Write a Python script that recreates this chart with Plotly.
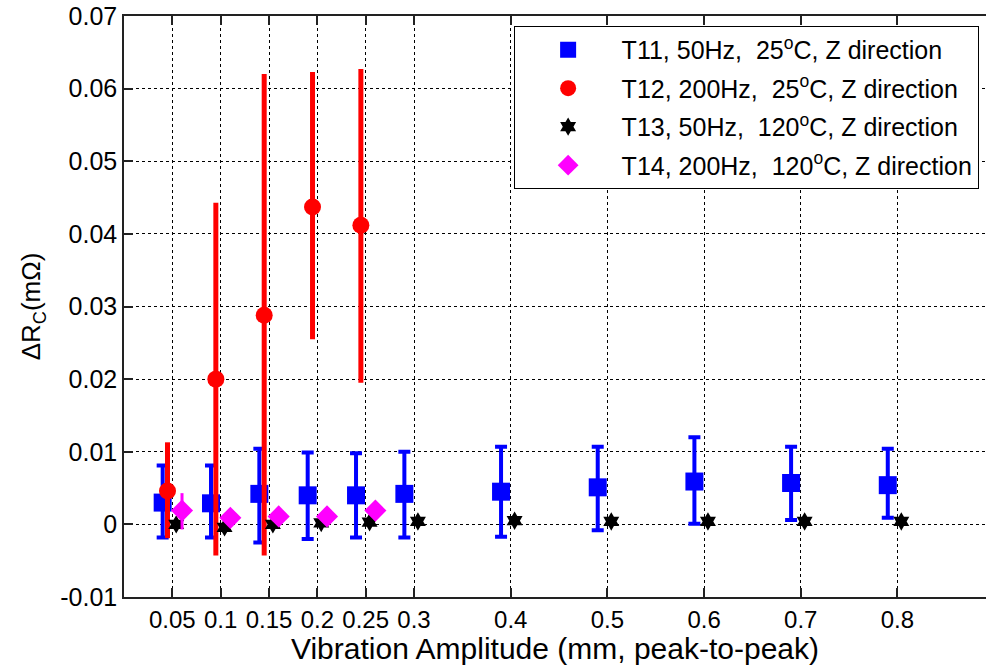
import plotly.graph_objects as go

# ---- data ----
amp_all = [0.05, 0.1, 0.15, 0.2, 0.25, 0.3, 0.4, 0.5, 0.6, 0.7, 0.8]
amp_200 = [0.05, 0.1, 0.15, 0.2, 0.25]

t11_mean = [0.0030, 0.0029, 0.0042, 0.0040, 0.0040, 0.0042, 0.0045, 0.0051, 0.0059, 0.0057, 0.0054]
t11_high = [0.0081, 0.0081, 0.0104, 0.0099, 0.0098, 0.0100, 0.0107, 0.0107, 0.0120, 0.0107, 0.0104]
t11_low = [-0.0018, -0.0018, -0.0025, -0.0020, -0.0018, -0.0018, -0.0017, -0.0008, 0.0001, 0.0006, 0.0009]

t12_mean = [0.0046, 0.0200, 0.0288, 0.0437, 0.0412]
t12_high = [0.0113, 0.0443, 0.0620, 0.0623, 0.0627]
t12_low = [-0.0019, -0.0043, -0.0043, 0.0255, 0.0195]

t13_mean = [0.0000, -0.0004, 0.0000, 0.0002, 0.0003, 0.0004, 0.0005, 0.0004, 0.0004, 0.0004, 0.0004]

t14_mean = [0.0019, 0.0009, 0.0011, 0.0011, 0.0019]
t14_high = [0.0043, 0.0013, 0.0015, 0.0015, 0.0023]
t14_low = [-0.0007, 0.0005, 0.0007, 0.0007, 0.0015]

x_ticks = [0.05, 0.1, 0.15, 0.2, 0.25, 0.3, 0.4, 0.5, 0.6, 0.7, 0.8]
x_ticktext = ["0.05", "0.1", "0.15", "0.2", "0.25", "0.3", "0.4", "0.5", "0.6", "0.7", "0.8"]
y_ticks = [-0.01, 0, 0.01, 0.02, 0.03, 0.04, 0.05, 0.06, 0.07]
y_ticktext = ["-0.01", "0", "0.01", "0.02", "0.03", "0.04", "0.05", "0.06", "0.07"]

names = [
    "T11, 50Hz,  25<sup>o</sup>C, Z direction",
    "T12, 200Hz,  25<sup>o</sup>C, Z direction",
    "T13, 50Hz,  120<sup>o</sup>C, Z direction",
    "T14, 200Hz,  120<sup>o</sup>C, Z direction",
]

# small horizontal dodge per series (as in the original figure)
dodge = {"T11": -0.01, "T12": -0.005, "T13": 0.004, "T14": 0.01}


def shift(xs, d):
    return [x + d for x in xs]


def err_plus(m, h):
    return [b - a for a, b in zip(m, h)]


def err_minus(m, l):
    return [a - b for a, b in zip(m, l)]


fig = go.Figure()

fig.add_trace(go.Scatter(
    x=shift(amp_all, dodge["T11"]), y=t11_mean, mode="markers", name=names[0],
    legendgroup="a",
    marker=dict(symbol="square", size=18, color="#0000FF"),
    error_y=dict(type="data", symmetric=False, array=err_plus(t11_mean, t11_high),
                 arrayminus=err_minus(t11_mean, t11_low), color="#0000FF",
                 thickness=4, width=6),
))
fig.add_trace(go.Scatter(
    x=shift(amp_200, dodge["T12"]), y=t12_mean, mode="markers", name=names[1],
    legendgroup="b",
    marker=dict(symbol="circle", size=17, color="#FF0000"),
    error_y=dict(type="data", symmetric=False, array=err_plus(t12_mean, t12_high),
                 arrayminus=err_minus(t12_mean, t12_low), color="#FF0000",
                 thickness=5, width=0),
))
fig.add_trace(go.Scatter(
    x=shift(amp_all, dodge["T13"]), y=t13_mean, mode="markers", name=names[2],
    legendgroup="c",
    marker=dict(symbol="hexagram", size=14, color="#000000"),
))
fig.add_trace(go.Scatter(
    x=shift(amp_200, dodge["T14"]), y=t14_mean, mode="markers", name=names[3],
    legendgroup="d",
    marker=dict(symbol="diamond", size=17, color="#FF00FF"),
    error_y=dict(type="data", symmetric=False, array=err_plus(t14_mean, t14_high),
                 arrayminus=err_minus(t14_mean, t14_low), color="#FF00FF",
                 thickness=3, width=0),
))

FONT = "Liberation Sans, Arial, sans-serif"

fig.update_layout(
    width=986, height=665,
    margin=dict(l=124, r=0, t=16, b=68),
    paper_bgcolor="white", plot_bgcolor="white",
    font=dict(family=FONT, size=22, color="#000000"),
    showlegend=True,
    legend=dict(
        x=0.452, y=0.983, xanchor="left", yanchor="top",
        bgcolor="white", bordercolor="#000000", borderwidth=1,
        font=dict(family=FONT, size=25, color="#000000"),
        tracegroupgap=3, traceorder="grouped", itemwidth=97,
    ),
    xaxis=dict(
        range=[0, 0.8916], tickmode="array", tickvals=x_ticks, ticktext=x_ticktext,
        showgrid=True, gridcolor="#000000", griddash="3px,3px", gridwidth=1,
        zeroline=False, showline=True, linecolor="#222222", linewidth=1.5,
        mirror="ticks", ticks="inside", ticklen=9, tickcolor="#222222", tickwidth=1.5,
        tickfont=dict(family=FONT, size=24, color="#000000"),
        title=dict(text="Vibration Amplitude (mm, peak-to-peak)", standoff=10,
                   font=dict(family=FONT, size=30, color="#000000")),
    ),
    yaxis=dict(
        range=[-0.01, 0.07], tickmode="array", tickvals=y_ticks, ticktext=y_ticktext,
        showgrid=True, gridcolor="#000000", griddash="3px,3px", gridwidth=1,
        zeroline=False, showline=True, linecolor="#222222", linewidth=1.5,
        mirror=False, ticks="inside", ticklen=9, tickcolor="#222222", tickwidth=1.5,
        tickfont=dict(family=FONT, size=25, color="#000000"),
        title=dict(text="\u0394R<sub>C</sub>(m\u03a9)", standoff=12,
                   font=dict(family=FONT, size=26, color="#000000")),
    ),
)

fig.write_html("out.html")
